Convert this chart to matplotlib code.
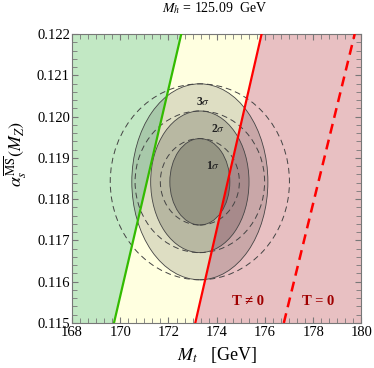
import numpy as np
import matplotlib
matplotlib.use("Agg")
import matplotlib.pyplot as plt
from matplotlib.patches import Ellipse
from matplotlib.ticker import MultipleLocator, AutoMinorLocator

plt.rcParams['font.family'] = ['Liberation Serif', 'DejaVu Serif']
plt.rcParams['mathtext.fontset'] = 'stix'

# boundary lines, Mt at alpha_s = 0.115 and 0.122
alpha_ends = [0.115, 0.122]
mt_green = [169.74, 172.53]
mt_red = [173.11, 175.86]
mt_red_dashed = [176.78, 179.72]

# best fit point and 1-sigma semi-axes (2 dof contours)
center = (173.30, 0.11842)
semi_mt_solid = 0.82
semi_mt_dashed = 1.08
semi_alpha = 0.00069
dchi2 = [2.30, 6.18, 11.83]
sigma_labels = ["1$\\sigma$", "2$\\sigma$", "3$\\sigma$"]
sigma_label_pos = [(173.83, 0.11880), (174.06, 0.11969), (173.44, 0.12036)]
fill_alpha = [0.19, 0.17, 0.13]

fig = plt.figure(figsize=(3.74, 3.68), dpi=100)
ax = fig.add_axes([0.1925, 0.1223, 0.774, 0.7853])
ax.set_xlim(168, 180)
ax.set_ylim(0.115, 0.122)

# shaded regions
ay = np.array(alpha_ends)
ax.fill_betweenx(ay, 168, mt_green, color='#c2e8c4', lw=0, zorder=0)
ax.fill_betweenx(ay, mt_green, mt_red, color='#ffffe0', lw=0, zorder=0)
ax.fill_betweenx(ay, mt_red, 180, color='#e8c0c2', lw=0, zorder=0)

# solid filled ellipses (3, 2, 1 sigma)
for k in [2, 1, 0]:
    s = np.sqrt(dchi2[k])
    e = Ellipse(center, 2 * s * semi_mt_solid, 2 * s * semi_alpha,
                facecolor=(0, 0, 0, fill_alpha[k]), edgecolor='#444444',
                lw=0.6, zorder=1)
    ax.add_patch(e)

# dashed ellipses
for k in range(3):
    s = np.sqrt(dchi2[k])
    e = Ellipse(center, 2 * s * semi_mt_dashed, 2 * s * semi_alpha,
                facecolor='none', edgecolor='#444444', lw=0.7,
                linestyle=(0, (6, 4)), zorder=2)
    ax.add_patch(e)

for lab, (px, py) in zip(sigma_labels, sigma_label_pos):
    ax.text(px, py, lab, fontsize=8.5, fontweight='bold', ha='center',
            va='center', color='#222222', zorder=4)

ax.plot(mt_green, alpha_ends, color='#33bb00', lw=1.6, zorder=3)
ax.plot(mt_red, alpha_ends, color='#ff0000', lw=1.6, zorder=3)
ax.plot(mt_red_dashed, alpha_ends, color='#ff0000', lw=1.8,
        linestyle=(0, (4, 2.5)), zorder=3)

ax.text(175.3, 0.11552, "T ≠ 0", fontsize=10.5, fontweight='bold',
        color='#a00000', ha='center', va='center', zorder=4)
ax.text(178.2, 0.11552, "T = 0", fontsize=10.5, fontweight='bold',
        color='#a00000', ha='center', va='center', zorder=4)

ax.xaxis.set_major_locator(MultipleLocator(2))
ax.xaxis.set_minor_locator(AutoMinorLocator(6))
ax.yaxis.set_major_locator(MultipleLocator(0.001))
ax.yaxis.set_minor_locator(AutoMinorLocator(5))
ax.tick_params(which='both', direction='in', top=True, right=True,
               color='#777777', labelsize=10.5, pad=1.5)
ax.tick_params(which='major', length=4.5)
ax.tick_params(which='minor', length=3.5)
ax.tick_params(axis='x', pad=2.5)
ax.yaxis.set_major_formatter(plt.FormatStrFormatter('%.3f'))
for sp in ax.spines.values():
    sp.set_color('#777777')
    sp.set_linewidth(0.8)

ax.set_xlabel(r'$M_t$   [GeV]', fontsize=13, labelpad=4)
ax.set_ylabel(r'$\alpha_s^{\overline{\mathrm{MS}}}(M_Z)$', fontsize=13)
ax.yaxis.set_label_coords(-0.15, 0.585)
fig.text(0.575, 0.978, r'$M_h$ = 125.09  GeV', fontsize=10, ha='center',
         va='center')

fig.savefig("out.png", dpi=100)
